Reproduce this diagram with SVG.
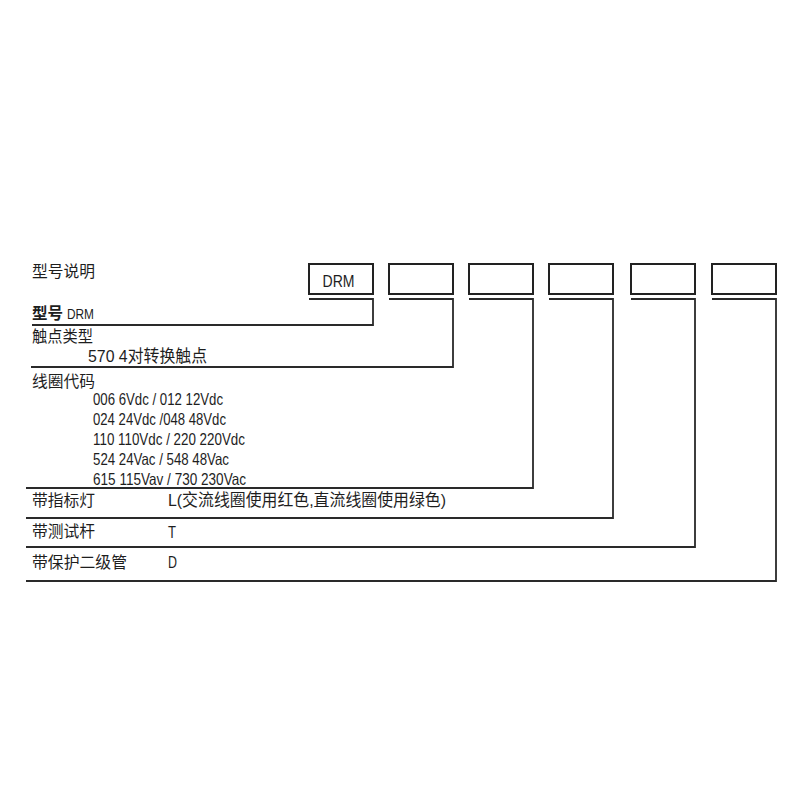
<svg xmlns="http://www.w3.org/2000/svg" width="800" height="800" viewBox="0 0 800 800">
<style>
.t{font-family:"Liberation Sans","Noto Sans CJK SC",sans-serif;fill:#1e1e1e}
.h{font-size:16px}
.d{font-size:16.5px}
.box{fill:#fff;stroke:#222;stroke-width:2}
.ln{fill:none;stroke:#2a2a2a;stroke-width:1.8}
</style>
<rect width="800" height="800" fill="#fff"/>
<text class="t h" x="32" y="277" textLength="63" lengthAdjust="spacingAndGlyphs">型号说明</text>
<g id="box-drm"><rect class="box" x="309" y="264" width="64" height="30"/><text class="t" x="338.5" y="287" font-size="16" text-anchor="middle" textLength="32" lengthAdjust="spacingAndGlyphs">DRM</text></g>
<g id="box-2"><rect class="box" x="389" y="264" width="64" height="30"/></g>
<g id="box-3"><rect class="box" x="469" y="264" width="64" height="30"/></g>
<g id="box-4"><rect class="box" x="549" y="264" width="64" height="30"/></g>
<g id="box-5"><rect class="box" x="631" y="264" width="64" height="30"/></g>
<g id="box-6"><rect class="box" x="712" y="264" width="64" height="30"/></g>
<g id="connectors">
<path class="ln" d="M309 299H373V325H32"/>
<path class="ln" d="M389 299H453V367H31"/>
<path class="ln" d="M469 299H533V488H26"/>
<path class="ln" d="M549 299H613V518H26"/>
<path class="ln" d="M631 299H695V547H26"/>
<path class="ln" d="M712 299H776V581H26"/>
</g>
<g id="row-model">
<text class="t" x="32" y="319" font-size="16" font-weight="bold" textLength="31" lengthAdjust="spacingAndGlyphs">型号</text>
<text class="t" x="67" y="319" font-size="14" textLength="27" lengthAdjust="spacingAndGlyphs">DRM</text>
</g>
<g id="row-contact">
<text class="t h" x="32" y="342" textLength="61" lengthAdjust="spacingAndGlyphs">触点类型</text>
<text class="t d" x="88" y="362" textLength="119" lengthAdjust="spacingAndGlyphs">570 4对转换触点</text>
</g>
<g id="row-coil">
<text class="t h" x="32" y="387" textLength="63" lengthAdjust="spacingAndGlyphs">线圈代码</text>
<text class="t d" x="93" y="405" textLength="130" lengthAdjust="spacingAndGlyphs">006 6Vdc / 012 12Vdc</text>
<text class="t d" x="93" y="425" textLength="133" lengthAdjust="spacingAndGlyphs">024 24Vdc /048 48Vdc</text>
<text class="t d" x="93" y="445" textLength="152" lengthAdjust="spacingAndGlyphs">110 110Vdc / 220 220Vdc</text>
<text class="t d" x="93" y="465" textLength="136" lengthAdjust="spacingAndGlyphs">524 24Vac / 548 48Vac</text>
<text class="t d" x="93" y="485" textLength="153" lengthAdjust="spacingAndGlyphs">615 115Vav / 730 230Vac</text>
</g>
<g id="row-lamp">
<text class="t h" x="32" y="506" textLength="63" lengthAdjust="spacingAndGlyphs">带指标灯</text>
<text class="t d" x="168" y="506" textLength="278" lengthAdjust="spacingAndGlyphs">L(交流线圈使用红色,直流线圈使用绿色)</text>
</g>
<g id="row-test">
<text class="t h" x="32" y="537" textLength="63" lengthAdjust="spacingAndGlyphs">带测试杆</text>
<text class="t d" x="168" y="538" textLength="8" lengthAdjust="spacingAndGlyphs">T</text>
</g>
<g id="row-diode">
<text class="t h" x="32" y="568" textLength="95" lengthAdjust="spacingAndGlyphs">带保护二级管</text>
<text class="t d" x="168" y="568" textLength="9" lengthAdjust="spacingAndGlyphs">D</text>
</g>
</svg>
